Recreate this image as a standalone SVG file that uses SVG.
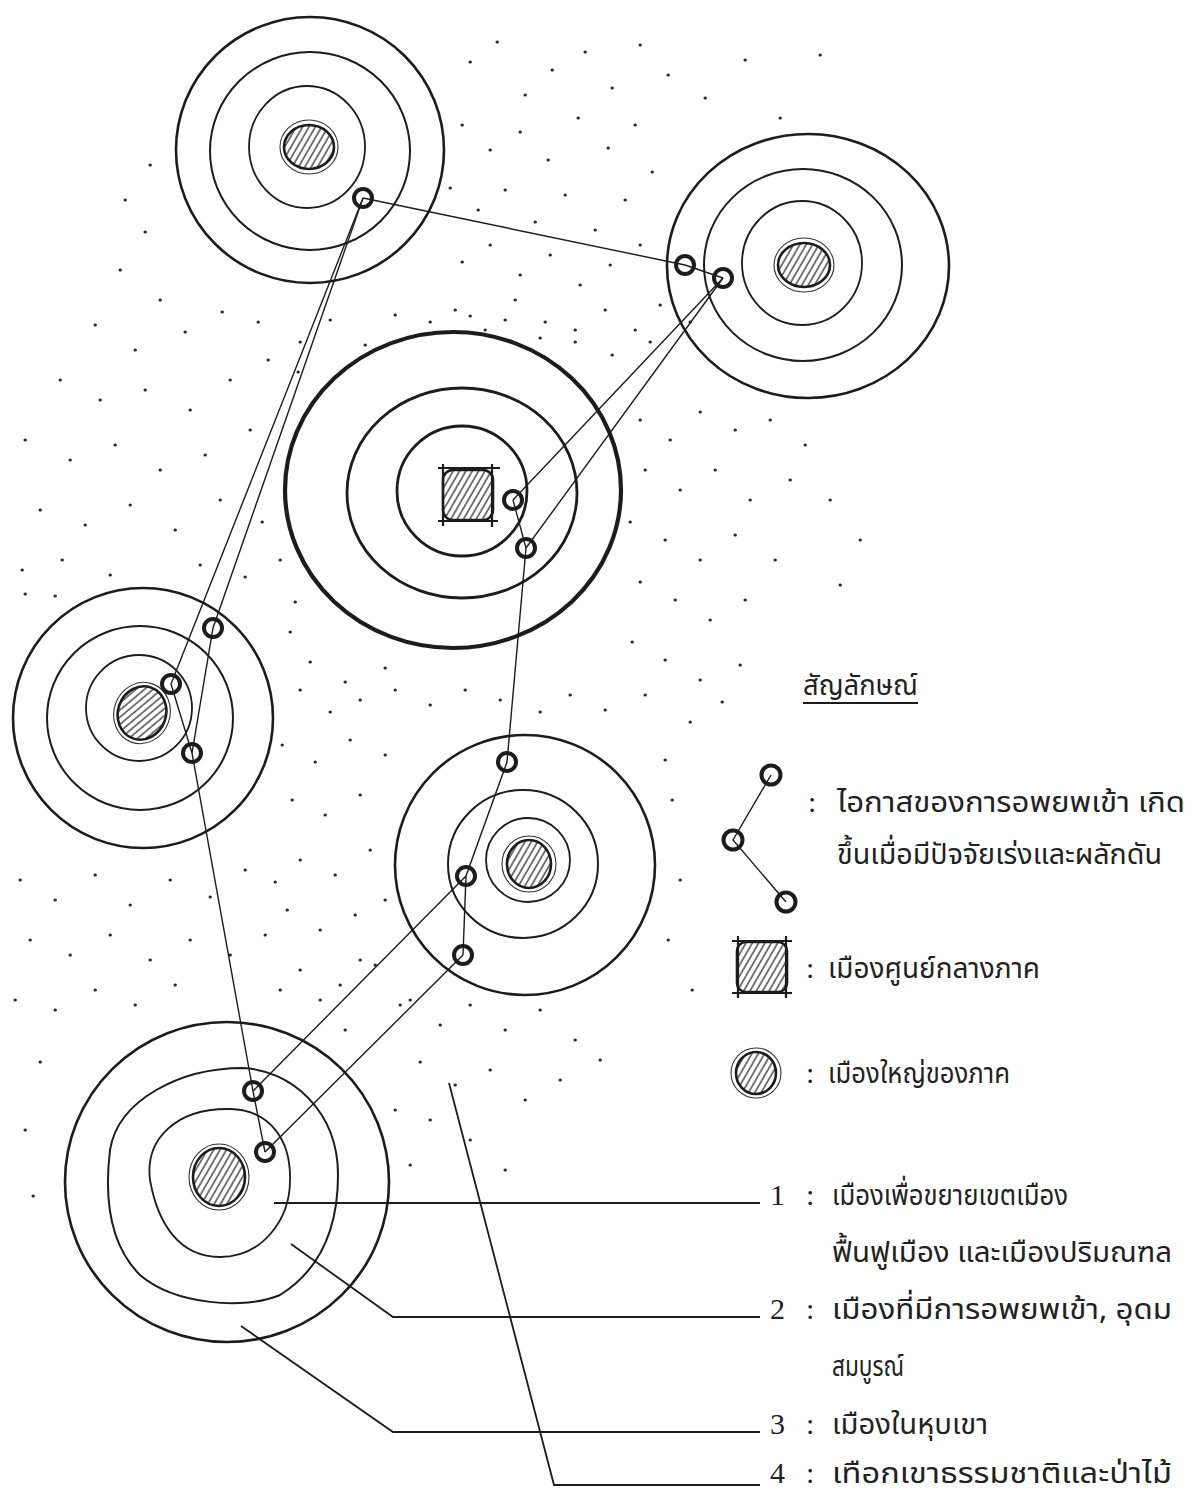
<svg xmlns="http://www.w3.org/2000/svg" width="1196" height="1497" viewBox="0 0 1196 1497">
<style>
.bg{fill:#ffffff}
.ro{fill:none;stroke:#1c1c1c;stroke-width:2.6}
.rm{fill:none;stroke:#1c1c1c;stroke-width:2}
.ri{fill:none;stroke:#1c1c1c;stroke-width:1.8}
.rc{fill:none;stroke:#1c1c1c;stroke-width:4.2}
.rc2{fill:none;stroke:#1c1c1c;stroke-width:2.8}
.city{fill:url(#hatch);stroke:#1c1c1c;stroke-width:2.6}
.halo{fill:none;stroke:#333;stroke-width:1.1}
.node{fill:none;stroke:#1c1c1c;stroke-width:4}
.link{fill:none;stroke:#1c1c1c;stroke-width:1.4}
.lead{fill:none;stroke:#1c1c1c;stroke-width:1.8}
.tick{fill:none;stroke:#1c1c1c;stroke-width:2.2}
.dots{fill:none;stroke:#2a2a2a;stroke-width:3;stroke-linecap:round}
.th{font-family:'Noto Sans Thai','Noto Serif Thai','Garuda','Loma','Tlwg Typo','DejaVu Sans','Noto Sans',sans-serif;font-size:29px;fill:#222}
.num{font-family:'Liberation Serif','DejaVu Serif',serif;font-size:30px;fill:#222}
</style>
<defs>
<pattern id="hatch" patternUnits="userSpaceOnUse" width="5.5" height="5.5" patternTransform="rotate(30)">
<rect width="5.5" height="5.5" fill="#ffffff"/>
<line x1="1" y1="0" x2="1" y2="5.5" stroke="#222" stroke-width="1.2"/>
</pattern>
</defs>
<rect class="bg" width="1196" height="1497"/>

<g id="stipple">
<path class="dots" d="M470 62h.4M497 42h.4M525 95h.4M552 70h.4M585 52h.4M612 88h.4M640 45h.4M668 75h.4M705 98h.4M745 60h.4M780 118h.4M820 55h.4M462 125h.4M490 150h.4M520 132h.4M548 160h.4M578 118h.4M608 148h.4M635 125h.4M450 188h.4M478 210h.4M505 190h.4M535 222h.4M565 195h.4M595 230h.4M625 200h.4M652 172h.4M462 262h.4M490 245h.4M520 275h.4M550 255h.4M580 285h.4M610 265h.4M640 245h.4M455 310h.4M485 330h.4M515 300h.4M545 322h.4M575 342h.4M605 310h.4M635 330h.4M660 305h.4"/>
<path class="dots" d="M145 232h.4M120 270h.4M160 300h.4M95 325h.4M135 350h.4M185 332h.4M222 312h.4M258 322h.4M60 380h.4M100 400h.4M145 390h.4M190 410h.4M230 380h.4M268 360h.4M25 440h.4M70 460h.4M115 445h.4M160 470h.4M205 455h.4M250 430h.4M40 510h.4M85 525h.4M130 505h.4M175 530h.4M220 500h.4M262 522h.4M22 570h.4M62 560h.4M110 575h.4M200 565h.4M245 577h.4M280 560h.4M150 165h.4M125 200h.4M25 594h.4M55 596h.4M33 1196h.4"/>
<path class="dots" d="M300 342h.4M330 320h.4M365 345h.4M395 315h.4M430 322h.4M470 316h.4M505 320h.4M540 338h.4M575 330h.4M612 355h.4M650 342h.4M690 322h.4M298 372h.4M290 632h.4M310 662h.4M345 682h.4M385 668h.4M295 602h.4M640 420h.4M670 440h.4M700 412h.4M735 430h.4M770 420h.4M805 445h.4M645 470h.4M680 490h.4M715 470h.4M750 500h.4M790 480h.4M630 522h.4M665 540h.4M700 560h.4M735 535h.4M775 560h.4M640 582h.4M675 600h.4M710 620h.4M745 600h.4M632 642h.4M665 660h.4M700 680h.4M740 665h.4M690 722h.4M722 702h.4M830 500h.4M860 540h.4M840 585h.4"/>
<path class="dots" d="M300 690h.4M330 712h.4M360 700h.4M395 690h.4M430 705h.4M465 690h.4M500 700h.4M540 712h.4M570 695h.4M605 710h.4M645 695h.4M282 745h.4M315 762h.4M350 740h.4M385 755h.4M292 800h.4M325 815h.4M360 795h.4M300 860h.4M335 875h.4M370 850h.4M287 910h.4M320 930h.4M355 915h.4M385 900h.4M300 970h.4M340 985h.4M375 965h.4M400 1005h.4M665 760h.4M672 800h.4M680 880h.4M668 940h.4M692 990h.4"/>
<path class="dots" d="M20 880h.4M55 900h.4M95 875h.4M130 905h.4M170 880h.4M210 897h.4M245 870h.4M275 882h.4M30 940h.4M70 955h.4M110 935h.4M150 960h.4M190 940h.4M230 955h.4M265 935h.4M15 1000h.4M55 1010h.4M95 990h.4M135 1005h.4M175 985h.4M280 990h.4M320 1000h.4M345 1030h.4M360 960h.4M25 1130h.4M40 1062h.4M410 1000h.4M440 1025h.4M470 1005h.4M505 1030h.4M540 1010h.4M575 1040h.4M420 1062h.4M455 1085h.4M490 1070h.4M525 1100h.4M560 1080h.4M600 1060h.4M430 1120h.4M470 1140h.4M505 1170h.4M395 1110h.4M410 1165h.4"/>
</g>

<g id="cluster-a">
<ellipse class="ro" cx="310" cy="150" rx="134" ry="133"/>
<ellipse class="rm" cx="310" cy="151" rx="100" ry="99"/>
<ellipse class="ri" cx="307" cy="147" rx="58" ry="61"/>
<ellipse class="halo" cx="309" cy="147" rx="29" ry="27"/>
<ellipse class="city" cx="309" cy="147" rx="25" ry="22"/>
</g>

<g id="cluster-b">
<ellipse class="ro" cx="808" cy="266" rx="141" ry="132"/>
<ellipse class="rm" cx="803" cy="265" rx="99" ry="96"/>
<ellipse class="ri" cx="802" cy="263" rx="60" ry="62"/>
<ellipse class="halo" cx="804" cy="265" rx="30" ry="27"/>
<ellipse class="city" cx="804" cy="265" rx="26" ry="22"/>
</g>

<g id="cluster-c">
<ellipse class="rc" cx="453" cy="490" rx="168" ry="158"/>
<ellipse class="rc2" cx="462" cy="493" rx="115" ry="105"/>
<ellipse class="rc2" cx="462" cy="491" rx="65" ry="65"/>
<rect class="city" x="443" y="470" width="50" height="50" rx="10"/>
<path class="tick" d="M438 468H500M438 521H498M443 464V526M492 464V527"/>
</g>

<g id="cluster-d">
<ellipse class="ro" cx="143" cy="718" rx="130" ry="130"/>
<ellipse class="rm" cx="140" cy="718" rx="93" ry="92"/>
<ellipse class="ri" cx="139" cy="708" rx="53" ry="53"/>
<ellipse class="halo" cx="142" cy="713" rx="28" ry="31" transform="rotate(20 142 713)"/>
<ellipse class="city" cx="142" cy="713" rx="24" ry="27" transform="rotate(20 142 713)"/>
</g>

<g id="cluster-e">
<ellipse class="ro" cx="525" cy="865" rx="130" ry="130"/>
<ellipse class="rm" cx="523" cy="864" rx="75" ry="74"/>
<ellipse class="ri" cx="528" cy="860" rx="42" ry="42"/>
<ellipse class="halo" cx="529" cy="864" rx="27" ry="28"/>
<ellipse class="city" cx="529" cy="864" rx="22" ry="24"/>
</g>

<g id="cluster-f">
<ellipse class="ro" cx="227" cy="1182" rx="162" ry="160"/>
<path class="rm" d="M243 1068C290 1070 338 1110 338 1175C338 1230 320 1270 280 1295C245 1310 175 1305 140 1275C110 1245 104 1200 110 1150C118 1100 180 1068 243 1068Z"/>
<path class="ri" d="M230 1109C270 1110 291 1140 290 1180C290 1220 262 1257 220 1257C180 1257 158 1225 150 1180C145 1140 175 1108 230 1109Z"/>
<ellipse class="halo" cx="219" cy="1177" rx="30" ry="33"/>
<ellipse class="city" cx="219" cy="1177" rx="26" ry="29"/>
</g>

<g id="connectors">
<path class="link" d="M363 198L685 265L723 278"/>
<path class="link" d="M723 278L513 500"/>
<path class="link" d="M723 278L526 548"/>
<path class="link" d="M513 500L526 548L507 762L466 876L463 955"/>
<path class="link" d="M363 198L171 684L192 753"/>
<path class="link" d="M363 198L213 628L192 753L253 1091L265 1152"/>
<path class="link" d="M466 876L253 1091"/>
<path class="link" d="M463 955L265 1152"/>
<path class="lead" d="M274 1203H760"/>
<path class="lead" d="M291 1244L393 1317H760"/>
<path class="lead" d="M241 1326L393 1432H760"/>
<path class="lead" d="M449 1083L554 1485H760"/>
</g>

<g id="nodes-migration">
<circle id="n-a" class="node" cx="363" cy="198" r="9"/>
<circle id="n-b1" class="node" cx="685" cy="265" r="9"/>
<circle id="n-b2" class="node" cx="723" cy="278" r="9"/>
<circle id="n-c1" class="node" cx="513" cy="500" r="9"/>
<circle id="n-c2" class="node" cx="526" cy="548" r="9"/>
<circle id="n-d1" class="node" cx="213" cy="628" r="9"/>
<circle id="n-d2" class="node" cx="171" cy="684" r="9"/>
<circle id="n-d3" class="node" cx="192" cy="753" r="9"/>
<circle id="n-e1" class="node" cx="507" cy="762" r="9"/>
<circle id="n-e2" class="node" cx="466" cy="876" r="9"/>
<circle id="n-e3" class="node" cx="463" cy="955" r="9"/>
<circle id="n-f1" class="node" cx="253" cy="1091" r="9"/>
<circle id="n-f2" class="node" cx="265" cy="1152" r="9"/>
</g>

<g id="legend">
<text class="th" x="803" y="695" textLength="115" lengthAdjust="spacingAndGlyphs">สัญลักษณ์</text>
<path class="lead" d="M803 703H918" stroke-width="1.4"/>
<path class="link" d="M771 775L733 840L786 902"/>
<circle class="node" cx="771" cy="775" r="9.5"/>
<circle class="node" cx="733" cy="840" r="9.5"/>
<circle class="node" cx="786" cy="902" r="9.5"/>
<text class="num" x="808" y="812">:</text>
<text class="th" x="837" y="812" textLength="348" lengthAdjust="spacingAndGlyphs">ไอกาสของการอพยพเข้า เกิด</text>
<text class="th" x="837" y="864" textLength="325" lengthAdjust="spacingAndGlyphs">ขึ้นเมื่อมีปัจจัยเร่งและผลักดัน</text>
<rect class="city" x="737" y="942" width="50" height="50" rx="9"/>
<path class="tick" d="M732 941H792M732 993H792M738 936V998M786 936V998"/>
<text class="num" x="806" y="978">:</text>
<text class="th" x="828" y="978" textLength="212" lengthAdjust="spacingAndGlyphs">เมืองศูนย์กลางภาค</text>
<ellipse class="halo" cx="756" cy="1073" rx="25" ry="25"/>
<ellipse class="city" cx="756" cy="1073" rx="20" ry="21"/>
<text class="num" x="806" y="1083">:</text>
<text class="th" x="828" y="1083" textLength="182" lengthAdjust="spacingAndGlyphs">เมืองใหญ่ของภาค</text>
<text class="num" x="770" y="1205">1</text>
<text class="num" x="806" y="1205">:</text>
<text class="th" x="832" y="1205" textLength="236" lengthAdjust="spacingAndGlyphs">เมืองเพื่อขยายเขตเมือง</text>
<text class="th" x="832" y="1262" textLength="340" lengthAdjust="spacingAndGlyphs">ฟื้นฟูเมือง และเมืองปริมณฑล</text>
<text class="num" x="770" y="1319">2</text>
<text class="num" x="806" y="1319">:</text>
<text class="th" x="832" y="1319" textLength="340" lengthAdjust="spacingAndGlyphs">เมืองที่มีการอพยพเข้า, อุดม</text>
<text class="th" x="832" y="1376" textLength="72" lengthAdjust="spacingAndGlyphs">สมบูรณ์</text>
<text class="num" x="770" y="1434">3</text>
<text class="num" x="806" y="1434">:</text>
<text class="th" x="832" y="1434" textLength="156" lengthAdjust="spacingAndGlyphs">เมืองในหุบเขา</text>
<text class="num" x="770" y="1483">4</text>
<text class="num" x="806" y="1483">:</text>
<text class="th" x="832" y="1483" textLength="340" lengthAdjust="spacingAndGlyphs">เทือกเขาธรรมชาติและป่าไม้</text>
</g>
</svg>
